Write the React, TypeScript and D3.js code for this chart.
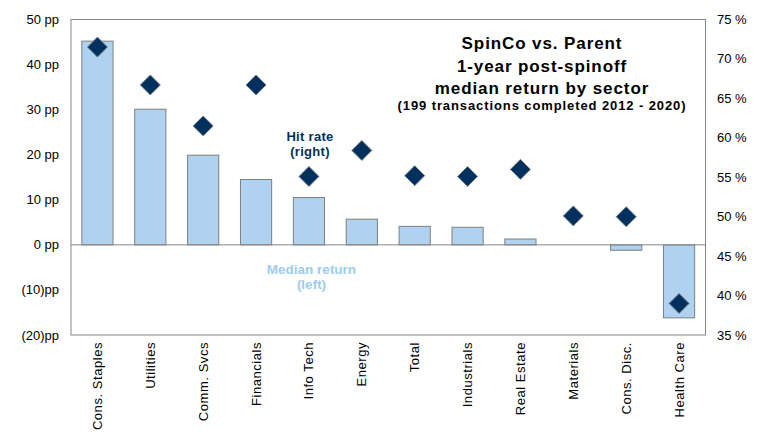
import { useEffect, useRef } from 'react'
import * as d3 from 'd3'

const sectors = ['Cons. Staples', 'Utilities', 'Comm. Svcs', 'Financials', 'Info Tech', 'Energy', 'Total', 'Industrials', 'Real Estate', 'Materials', 'Cons. Disc.', 'Health Care']
const medianReturn = [45.2, 30.1, 19.9, 14.5, 10.5, 5.7, 4.1, 3.9, 1.3, 0, -1.2, -16.2]
const hitRate = [71.5, 66.7, 61.5, 66.7, 55.1, 58.4, 55.2, 55.1, 56.0, 50.1, 50.0, 39.0]
const leftTicks = [50, 40, 30, 20, 10, 0, -10, -20]
const rightTicks = [75, 70, 65, 60, 55, 50, 45, 40, 35]
const titleLines = ['SpinCo vs. Parent', '1-year post-spinoff', 'median return by sector']
const subTitle = '(199 transactions completed 2012 - 2020)'

const W = 781
const H = 433
const M = { left: 71, right: 75.5, top: 19.5, bottom: 98 }

export default function App() {
    const svgRef = useRef<SVGSVGElement | null>(null)

    useEffect(() => {
        const svg = d3.select(svgRef.current)
        svg.selectAll('*').remove()
        const font = 'Liberation Sans, Arial, sans-serif'

        const x = d3.scaleBand().domain(sectors).range([M.left, W - M.right]).paddingInner(0.41).paddingOuter(0.205)
        const yL = d3.scaleLinear().domain([-20, 50]).range([H - M.bottom, M.top])
        const yR = d3.scaleLinear().domain([35, 75]).range([H - M.bottom, M.top])

        // frame
        svg.append('rect')
            .attr('x', M.left).attr('y', M.top)
            .attr('width', W - M.left - M.right).attr('height', H - M.top - M.bottom)
            .attr('fill', 'none').attr('stroke', '#868686').attr('stroke-width', 1)

        // bars
        svg.selectAll('.bar')
            .data(medianReturn)
            .enter()
            .append('rect')
            .attr('x', (d, i) => x(sectors[i])!)
            .attr('width', x.bandwidth())
            .attr('y', d => yL(Math.max(0, d)))
            .attr('height', d => Math.abs(yL(d) - yL(0)))
            .attr('fill', '#AED2EF')
            .attr('stroke', '#7f7f7f')
            .attr('stroke-width', 1)

        // zero line
        svg.append('line')
            .attr('x1', M.left).attr('x2', W - M.right)
            .attr('y1', yL(0)).attr('y2', yL(0))
            .attr('stroke', '#868686').attr('stroke-width', 1)

        // diamonds
        const r = 10
        svg.selectAll('.dia')
            .data(hitRate)
            .enter()
            .append('path')
            .attr('d', (d, i) => {
                const cx = x(sectors[i])! + x.bandwidth() / 2
                const cy = yR(d)
                return `M${cx},${cy - r} L${cx + r},${cy} L${cx},${cy + r} L${cx - r},${cy} Z`
            })
            .attr('fill', '#00315E')
            .attr('stroke', '#7f7f7f')
            .attr('stroke-width', 1)

        // left axis labels
        svg.selectAll('.lt')
            .data(leftTicks)
            .enter()
            .append('text')
            .attr('x', 59)
            .attr('y', d => yL(d))
            .attr('dy', '0.35em')
            .attr('text-anchor', 'end')
            .attr('font-family', font)
            .attr('font-size', 13)
            .attr('fill', '#000')
            .text(d => d < 0 ? `(${-d})pp` : `${d} pp`)

        // right axis labels
        svg.selectAll('.rt')
            .data(rightTicks)
            .enter()
            .append('text')
            .attr('x', 717)
            .attr('y', d => yR(d))
            .attr('dy', '0.35em')
            .attr('text-anchor', 'start')
            .attr('font-family', font)
            .attr('font-size', 13)
            .attr('fill', '#000')
            .text(d => `${d} %`)

        // category labels
        svg.selectAll('.cat')
            .data(sectors)
            .enter()
            .append('text')
            .attr('transform', d => `translate(${x(d)! + x.bandwidth() / 2 + 4.5},${H - M.bottom + 7}) rotate(-90)`)
            .attr('text-anchor', 'end')
            .attr('font-family', font)
            .attr('font-size', 13)
            .attr('letter-spacing', 0.55)
            .attr('fill', '#000')
            .text(d => d)

        // title
        const tx = 542
        const titleBase = [49, 71.5, 93.5]
        titleLines.forEach((t, i) => {
            svg.append('text')
                .attr('x', tx).attr('y', titleBase[i])
                .attr('text-anchor', 'middle')
                .attr('font-family', font)
                .attr('font-size', 17)
                .attr('font-weight', 'bold')
                .attr('letter-spacing', 0.9)
                .attr('fill', '#000')
                .text(t)
        })
        svg.append('text')
            .attr('x', tx).attr('y', 110)
            .attr('text-anchor', 'middle')
            .attr('font-family', font)
            .attr('font-size', 13)
            .attr('font-weight', 'bold')
            .attr('letter-spacing', 0.9)
            .attr('fill', '#000')
            .text(subTitle)

        // series annotations
        const hit = ['Hit rate', '(right)']
        hit.forEach((t, i) => {
            svg.append('text')
                .attr('x', 310).attr('y', 140.5 + i * 15.5)
                .attr('text-anchor', 'middle')
                .attr('font-family', font)
                .attr('font-size', 13)
                .attr('font-weight', 'bold')
                .attr('letter-spacing', 0.3)
                .attr('fill', '#00315E')
                .text(t)
        })
        const med = ['Median return', '(left)']
        med.forEach((t, i) => {
            svg.append('text')
                .attr('x', 311.5).attr('y', 274 + i * 15)
                .attr('text-anchor', 'middle')
                .attr('font-family', font)
                .attr('font-size', 13.5)
                .attr('font-weight', 'bold')
                .attr('fill', '#9DCCF0')
                .text(t)
        })
    }, [])

    return <svg ref={svgRef} width={W} height={H} style={{ position: 'absolute', left: 0, top: 0, background: '#fff' }}></svg>
}
